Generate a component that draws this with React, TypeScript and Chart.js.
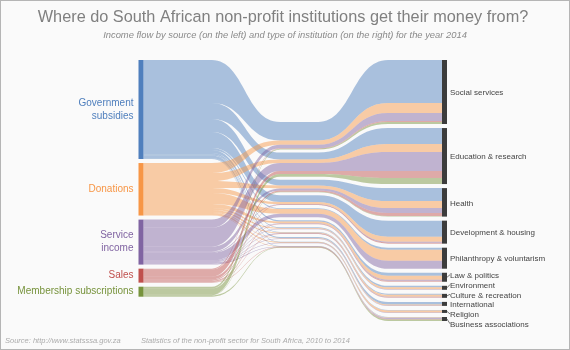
import { useEffect, useRef } from 'react';
import { Chart, registerables } from 'chart.js';

Chart.register(...registerables);

// ---- data ----
const sources = ['Government\nsubsidies', 'Donations', 'Service\nincome', 'Sales', 'Membership subscriptions'];
const targets = [
  'Social services',
  'Education & research',
  'Health',
  'Development & housing',
  'Philanthropy & voluntarism',
  'Law & politics',
  'Environment',
  'Culture & recreation',
  'International',
  'Religion',
  'Business associations',
];
// flow from each source into each target (same order as targets)
const governmentFlows = [43, 16, 13, 16, 2, 3, 1.5, 1, 2.5, 0.5, 0.5];
const donationFlows = [10, 8, 7, 5, 11, 4, 2, 2, 1, 2, 0.5];
const serviceFlows = [8, 19, 5, 1, 8, 1, 0.5, 0.5, 0.5, 0.5, 1];
const salesFlows = [1, 7, 3, 1, 0, 1, 0, 0.5, 0, 0, 0.5];
const membershipFlows = [2, 6, 0.5, 0, 0, 0, 0, 0, 0, 0, 1.5];

const title = 'Where do South African non-profit institutions get their money from?';
const subtitle = 'Income flow by source (on the left) and type of institution (on the right) for the year 2014';
const footerSource = 'Source: http://www.statsssa.gov.za';
const footerNote = 'Statistics of the non-profit sector for South Africa, 2010 to 2014';

// ---- styles / layout ----
const sourceColors = ['#4f7fbd', '#f79646', '#8064a2', '#c0504d', '#77933c'];
const linkAlpha = 0.47;
const targetColor = '#3c3c3c';
const FONT = '"Liberation Sans", Arial, sans-serif';
const NODE_W = 5;
const NODE_GAP = 4.05; // value units
const MID_TOP = 62; // value units
const MID_SCALE = 0.43;
const MID_GAP = 3.1;
const MIN_MID_W = 0.5;
// x positions as fractions of the node-to-node span
const X_A = 0.2375;
const CP_L = 0.345;
const X_M1 = 0.459;
const X_M2 = 0.582;
const CP_R = 0.693;
const X_B = 0.809;

function hexToRgba(hex: string, a: number) {
  const n = parseInt(hex.slice(1), 16);
  return `rgba(${(n >> 16) & 255},${(n >> 8) & 255},${n & 255},${a})`;
}

const flows = [governmentFlows, donationFlows, serviceFlows, salesFlows, membershipFlows];
const sum = (a: number[]) => a.reduce((p, c) => p + c, 0);
const srcTot = flows.map(sum);
const tgtTot = targets.map((_, t) => sum(flows.map((f) => f[t])));
const grand = sum(srcTot);
const Y_MAX = grand + (targets.length - 1) * NODE_GAP;

const sankeyPlugin = {
  id: 'sankeyDraw',
  beforeDraw(chart: any) {
    const { ctx, width, height } = chart;
    ctx.save();
    ctx.fillStyle = '#fafafa';
    ctx.fillRect(0, 0, width, height);
    ctx.strokeStyle = '#b5b5b5';
    ctx.lineWidth = 1;
    ctx.strokeRect(0.5, 0.5, width - 1, height - 1);

    ctx.textAlign = 'center';
    ctx.textBaseline = 'middle';
    ctx.fillStyle = '#808080';
    ctx.font = `16.3px ${FONT}`;
    ctx.fillText(title, width / 2 - 2, 18);
    ctx.fillStyle = '#8a8a8a';
    ctx.font = `italic 9.4px ${FONT}`;
    ctx.fillText(subtitle, width / 2, 35);

    ctx.textAlign = 'left';
    ctx.fillStyle = '#ababab';
    ctx.font = `italic 7.5px ${FONT}`;
    ctx.fillText(footerSource, 5, 341);
    ctx.fillText(footerNote, 141, 341);
    ctx.restore();
  },
  afterDatasetsDraw(chart: any) {
    const { ctx } = chart;
    const xs = chart.scales.x;
    const ys = chart.scales.y;
    const py = (v: number) => ys.getPixelForValue(v);
    const px = (v: number) => xs.getPixelForValue(v);
    const xNodeL = px(0);
    const xNodeR = px(1);
    const xL = xNodeL + NODE_W;
    const xR = xNodeR - NODE_W;
    const xA = px(X_A);
    const cL = px(CP_L);
    const xM1 = px(X_M1);
    const xM2 = px(X_M2);
    const cR = px(CP_R);
    const xB = px(X_B);

    // node positions
    const srcY: number[] = [];
    let acc = 0;
    srcTot.forEach((v) => {
      srcY.push(acc);
      acc += v + NODE_GAP;
    });
    const tgtY: number[] = [];
    acc = 0;
    tgtTot.forEach((v) => {
      tgtY.push(acc);
      acc += v + NODE_GAP;
    });
    const midY: number[] = [];
    acc = MID_TOP;
    tgtTot.forEach((v) => {
      midY.push(acc);
      acc += v * MID_SCALE + MID_GAP;
    });

    ctx.save();
    // links
    flows.forEach((row, s) => {
      ctx.fillStyle = hexToRgba(sourceColors[s], linkAlpha);
      row.forEach((v, t) => {
        if (v <= 0) return;
        const l0 = srcY[s] + sum(row.slice(0, t));
        const l1 = l0 + v;
        let before = 0;
        for (let k = 0; k < s; k++) before += flows[k][t];
        const r0 = tgtY[t] + before;
        const r1 = r0 + v;
        const m0 = midY[t] + before * MID_SCALE;
        const m1 = m0 + Math.max(v * MID_SCALE, MIN_MID_W);
        const [pl0, pl1, pr0, pr1, pm0, pm1] = [l0, l1, r0, r1, m0, m1].map(py);
        ctx.beginPath();
        ctx.moveTo(xL, pl0);
        ctx.lineTo(xA, pl0);
        ctx.bezierCurveTo(cL, pl0, cL, pm0, xM1, pm0);
        ctx.lineTo(xM2, pm0);
        ctx.bezierCurveTo(cR, pm0, cR, pr0, xB, pr0);
        ctx.lineTo(xR, pr0);
        ctx.lineTo(xR, pr1);
        ctx.lineTo(xB, pr1);
        ctx.bezierCurveTo(cR, pr1, cR, pm1, xM2, pm1);
        ctx.lineTo(xM1, pm1);
        ctx.bezierCurveTo(cL, pm1, cL, pl1, xA, pl1);
        ctx.lineTo(xL, pl1);
        ctx.closePath();
        ctx.fill();
      });
    });

    // source nodes + labels
    ctx.font = `10px ${FONT}`;
    ctx.textAlign = 'right';
    ctx.textBaseline = 'middle';
    srcTot.forEach((v, s) => {
      const top = py(srcY[s]);
      const bot = py(srcY[s] + v);
      ctx.fillStyle = sourceColors[s];
      ctx.fillRect(xNodeL, top, NODE_W, bot - top);
      const lines = sources[s].split('\n');
      const c = (top + bot) / 2;
      const lh = 13;
      lines.forEach((ln, i) => {
        ctx.fillText(ln, xNodeL - 5, c + (i - (lines.length - 1) / 2) * lh);
      });
    });

    // target nodes
    const centers: number[] = [];
    tgtTot.forEach((v, t) => {
      const top = py(tgtY[t]);
      const bot = py(tgtY[t] + v);
      ctx.fillStyle = targetColor;
      ctx.fillRect(xR, top, NODE_W, bot - top);
      centers.push((top + bot) / 2);
    });

    // label de-overlap (cluster centring)
    const SP = 9.8;
    let clusters = centers.map((c, i) => ({ idx: [i], pos: c }));
    let merged = true;
    while (merged) {
      merged = false;
      for (let i = 1; i < clusters.length; i++) {
        const a = clusters[i - 1];
        const b = clusters[i];
        const aEnd = a.pos + ((a.idx.length - 1) * SP) / 2;
        const bStart = b.pos - ((b.idx.length - 1) * SP) / 2;
        if (bStart - aEnd < SP) {
          const idx = a.idx.concat(b.idx);
          const mean = sum(idx.map((k) => centers[k])) / idx.length;
          clusters.splice(i - 1, 2, { idx, pos: mean });
          merged = true;
          break;
        }
      }
    }
    const labelY: number[] = [];
    clusters.forEach((c) => {
      c.idx.forEach((k, j) => {
        labelY[k] = c.pos + (j - (c.idx.length - 1) / 2) * SP;
      });
    });

    ctx.font = `8px ${FONT}`;
    ctx.textAlign = 'left';
    ctx.fillStyle = '#444444';
    ctx.strokeStyle = '#555555';
    ctx.lineWidth = 0.8;
    targets.forEach((name, t) => {
      const ly = labelY[t];
      if (Math.abs(ly - centers[t]) > 1) {
        ctx.beginPath();
        ctx.moveTo(xNodeR, centers[t]);
        ctx.lineTo(xNodeR + 3, ly);
        ctx.stroke();
      }
      ctx.fillText(name, xNodeR + 3, ly + 1);
    });
    ctx.restore();
  },
};

export default function App() {
  const ref = useRef<HTMLCanvasElement | null>(null);
  useEffect(() => {
    document.body.style.margin = '0';
    if (!ref.current) return;
    const chart = new Chart(ref.current, {
      type: 'scatter',
      data: { datasets: [{ data: [] }] },
      options: {
        responsive: false,
        animation: false,
        layout: { padding: { left: 138.5, right: 123, top: 60, bottom: 29 } },
        scales: {
          x: { type: 'linear', min: 0, max: 1, display: false },
          y: { type: 'linear', min: 0, max: Y_MAX, reverse: true, display: false },
        },
        plugins: { legend: { display: false }, tooltip: { enabled: false }, title: { display: false } },
      },
      plugins: [sankeyPlugin],
    });
    return () => chart.destroy();
  }, []);
  return <canvas ref={ref} width={570} height={350} style={{ display: 'block' }} />;
}
